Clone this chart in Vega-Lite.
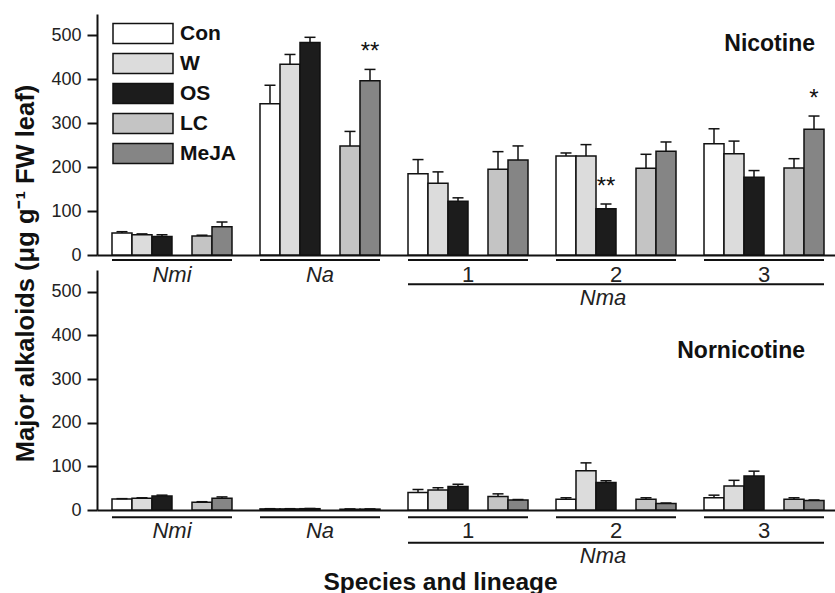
{
  "$schema": "https://vega.github.io/schema/vega-lite/v6.json",
  "background": "white",
  "padding": {"left": 12, "top": 14, "right": 0, "bottom": 0},
  "autosize": {"type": "pad"},
  "bounds": "flush",
  "spacing": 15,
  "config": {
    "font": "Liberation Sans",
    "view": {"stroke": null},
    "axis": {
      "labelFont": "Liberation Sans", "titleFont": "Liberation Sans",
      "domainColor": "#111", "domainWidth": 2, "tickColor": "#111", "tickWidth": 2,
      "labelColor": "#222", "titleColor": "#111", "grid": false
    },
    "legend": {
      "orient": "none", "legendX": 35, "legendY": 8.5, "padding": 0,
      "symbolType": "M-3,-1H3V1H-3Z", "symbolSize": 400,
      "symbolStrokeColor": "#111", "symbolStrokeWidth": 1.5, "symbolOpacity": 1,
      "labelFont": "Liberation Sans", "labelFontSize": 21, "labelFontWeight": "bold",
      "labelColor": "#111", "labelOffset": 26, "rowPadding": 4
    }
  },
  "datasets": {
    "nic": [
      {"group": "Nmi", "trt": "Con", "v": 50, "e": 53},
      {"group": "Nmi", "trt": "W", "v": 46, "e": 48},
      {"group": "Nmi", "trt": "OS", "v": 42, "e": 46},
      {"group": "Nmi", "trt": "LC", "v": 43, "e": 45},
      {"group": "Nmi", "trt": "MeJA", "v": 64, "e": 75},
      {"group": "Na", "trt": "Con", "v": 344, "e": 386},
      {"group": "Na", "trt": "W", "v": 434, "e": 456},
      {"group": "Na", "trt": "OS", "v": 483, "e": 495},
      {"group": "Na", "trt": "LC", "v": 248, "e": 281},
      {"group": "Na", "trt": "MeJA", "v": 396, "e": 422},
      {"group": "1", "trt": "Con", "v": 185, "e": 217},
      {"group": "1", "trt": "W", "v": 163, "e": 189},
      {"group": "1", "trt": "OS", "v": 122, "e": 130},
      {"group": "1", "trt": "LC", "v": 195, "e": 235},
      {"group": "1", "trt": "MeJA", "v": 216, "e": 248},
      {"group": "2", "trt": "Con", "v": 225, "e": 232},
      {"group": "2", "trt": "W", "v": 225, "e": 251},
      {"group": "2", "trt": "OS", "v": 105, "e": 116},
      {"group": "2", "trt": "LC", "v": 197, "e": 229},
      {"group": "2", "trt": "MeJA", "v": 236, "e": 257},
      {"group": "3", "trt": "Con", "v": 253, "e": 287},
      {"group": "3", "trt": "W", "v": 230, "e": 259},
      {"group": "3", "trt": "OS", "v": 177, "e": 192},
      {"group": "3", "trt": "LC", "v": 198, "e": 219},
      {"group": "3", "trt": "MeJA", "v": 286, "e": 316}
    ],
    "nor": [
      {"group": "Nmi", "trt": "Con", "v": 25, "e": 26},
      {"group": "Nmi", "trt": "W", "v": 27, "e": 28},
      {"group": "Nmi", "trt": "OS", "v": 32, "e": 34},
      {"group": "Nmi", "trt": "LC", "v": 18, "e": 19},
      {"group": "Nmi", "trt": "MeJA", "v": 27, "e": 30},
      {"group": "Na", "trt": "Con", "v": 2.5, "e": 3},
      {"group": "Na", "trt": "W", "v": 2.5, "e": 3},
      {"group": "Na", "trt": "OS", "v": 3, "e": 3.5},
      {"group": "Na", "trt": "LC", "v": 2, "e": 2.5},
      {"group": "Na", "trt": "MeJA", "v": 2, "e": 2.5},
      {"group": "1", "trt": "Con", "v": 40, "e": 47},
      {"group": "1", "trt": "W", "v": 46, "e": 51},
      {"group": "1", "trt": "OS", "v": 54, "e": 59},
      {"group": "1", "trt": "LC", "v": 31, "e": 37},
      {"group": "1", "trt": "MeJA", "v": 23, "e": 24},
      {"group": "2", "trt": "Con", "v": 24.5, "e": 28},
      {"group": "2", "trt": "W", "v": 90, "e": 108},
      {"group": "2", "trt": "OS", "v": 63, "e": 67},
      {"group": "2", "trt": "LC", "v": 24.5, "e": 28},
      {"group": "2", "trt": "MeJA", "v": 15, "e": 16},
      {"group": "3", "trt": "Con", "v": 28, "e": 34},
      {"group": "3", "trt": "W", "v": 55, "e": 68},
      {"group": "3", "trt": "OS", "v": 78, "e": 89},
      {"group": "3", "trt": "LC", "v": 24.5, "e": 28},
      {"group": "3", "trt": "MeJA", "v": 21.5, "e": 23}
    ],
    "stars": [
      {"group": "Na", "trt": "MeJA", "e": 422, "s": "**"},
      {"group": "2", "trt": "OS", "e": 116, "s": "**"},
      {"group": "3", "trt": "MeJA", "e": 316, "s": "*"}
    ],
    "spp": [{"group": "Nmi"}, {"group": "Na"}],
    "lin": [{"group": "1"}, {"group": "2"}, {"group": "3"}],
    "under": [
      {"from": "Nmi", "to": "Nmi"}, {"from": "Na", "to": "Na"},
      {"from": "1", "to": "1"}, {"from": "2", "to": "2"}, {"from": "3", "to": "3"}
    ],
    "nma": [{"from": "1", "to": "3", "name": "Nma"}]
  },
  "resolve": {"scale": {"x": "independent", "y": "independent", "xOffset": "independent", "fill": "independent"}, "legend": {"fill": "independent"}},
  "vconcat": [
    {
      "width": 738, "height": 241,
      "title": {"text": "Nicotine", "orient": "top", "anchor": "end", "frame": "group", "offset": 0, "dx": -20, "dy": 60, "baseline": "alphabetic", "font": "Liberation Sans", "fontSize": 23, "fontWeight": "bold", "color": "#111"},
      "layer": [
        {
          "data": {"name": "nic"},
          "mark": {"type": "bar", "stroke": "#111", "strokeWidth": 1.5},
          "encoding": {
            "x": {"field": "group", "type": "nominal", "sort": null,
                  "scale": {"domain": ["Nmi", "Na", "1", "2", "3"], "paddingInner": 0.1892, "paddingOuter": 0.0878, "align": 0.577},
                  "axis": {"labels": false, "ticks": false, "title": null}},
            "xOffset": {"field": "trt", "type": "nominal",
                  "scale": {"domain": ["Con", "W", "OS", "gap", "LC", "MeJA"], "paddingInner": 0, "paddingOuter": 0}},
            "y": {"field": "v", "type": "quantitative",
                  "scale": {"domain": [0, 548], "nice": false},
                  "axis": {"values": [0, 50, 100, 150, 200, 250, 300, 350, 400, 450, 500],
                           "labelExpr": "datum.value % 100 === 0 ? datum.label : ''",
                           "tickSize": {"condition": {"test": "datum.value % 100 === 0", "value": 10}, "value": 4},
                           "labelFontSize": 18, "labelPadding": 6,
                           "title": "Major alkaloids (μg g⁻¹ FW leaf)", "titleFontSize": 25.5, "titleFontWeight": "bold",
                           "titleAngle": 270, "titleAlign": "center", "titleBaseline": "alphabetic",
                           "titleX": -64, "titleY": 259}},
            "fill": {"field": "trt", "type": "nominal",
                  "scale": {"domain": ["Con", "W", "OS", "LC", "MeJA"], "range": ["#ffffff", "#dcdcdc", "#1c1c1c", "#c4c4c4", "#858585"]},
                  "legend": {"title": null}}
          }
        },
        {
          "data": {"name": "nic"},
          "mark": {"type": "rule", "stroke": "#111", "strokeWidth": 1.5},
          "encoding": {
            "x": {"field": "group", "type": "nominal"},
            "xOffset": {"field": "trt", "type": "nominal"},
            "y": {"field": "v", "type": "quantitative"},
            "y2": {"field": "e"}
          }
        },
        {
          "data": {"name": "nic"},
          "mark": {"type": "tick", "color": "#111", "thickness": 1.5, "opacity": 1},
          "encoding": {
            "x": {"field": "group", "type": "nominal"},
            "xOffset": {"field": "trt", "type": "nominal"},
            "y": {"field": "e", "type": "quantitative"},
            "size": {"value": 11}
          }
        },
        {
          "data": {"name": "stars"},
          "mark": {"type": "text", "fontSize": 24, "color": "#111", "baseline": "alphabetic", "dy": -10},
          "encoding": {
            "x": {"field": "group", "type": "nominal"},
            "xOffset": {"field": "trt", "type": "nominal"},
            "y": {"field": "e", "type": "quantitative"},
            "text": {"field": "s"}
          }
        },
        {
          "data": {"name": "under"},
          "mark": {"type": "rule", "stroke": "#111", "strokeWidth": 2},
          "encoding": {
            "x": {"field": "from", "type": "nominal", "bandPosition": 0},
            "x2": {"field": "to", "bandPosition": 1},
            "y": {"datum": -11.4, "type": "quantitative"}
          }
        },
        {
          "data": {"name": "nma"},
          "mark": {"type": "rule", "stroke": "#111", "strokeWidth": 2},
          "encoding": {
            "x": {"field": "from", "type": "nominal", "bandPosition": 0},
            "x2": {"field": "to", "bandPosition": 1},
            "y": {"datum": -66.6, "type": "quantitative"}
          }
        },
        {
          "data": {"name": "spp"},
          "mark": {"type": "text", "fontSize": 22, "fontStyle": "italic", "color": "#222", "baseline": "alphabetic"},
          "encoding": {
            "x": {"field": "group", "type": "nominal"},
            "y": {"datum": -60.7, "type": "quantitative"},
            "text": {"field": "group"}
          }
        },
        {
          "data": {"name": "lin"},
          "mark": {"type": "text", "fontSize": 22, "color": "#222", "baseline": "alphabetic"},
          "encoding": {
            "x": {"field": "group", "type": "nominal"},
            "y": {"datum": -60.7, "type": "quantitative"},
            "text": {"field": "group"}
          }
        },
        {
          "data": {"name": "nma"},
          "mark": {"type": "text", "fontSize": 22, "fontStyle": "italic", "color": "#222", "baseline": "alphabetic", "dx": -13},
          "encoding": {
            "x": {"datum": "2", "type": "nominal"},
            "y": {"datum": -113.7, "type": "quantitative"},
            "text": {"field": "name"}
          }
        }
      ]
    },
    {
      "width": 738, "height": 240,
      "title": {"text": "Nornicotine", "orient": "top", "anchor": "end", "frame": "group", "offset": 0, "dx": -30, "dy": 110.7, "baseline": "alphabetic", "font": "Liberation Sans", "fontSize": 23, "fontWeight": "bold", "color": "#111"},
      "layer": [
        {
          "data": {"name": "nor"},
          "mark": {"type": "bar", "stroke": "#111", "strokeWidth": 1.5},
          "encoding": {
            "x": {"field": "group", "type": "nominal", "sort": null,
                  "scale": {"domain": ["Nmi", "Na", "1", "2", "3"], "paddingInner": 0.1892, "paddingOuter": 0.0878, "align": 0.577},
                  "axis": {"labels": false, "ticks": false, "title": "Species and lineage",
                           "titleFontSize": 24.5, "titleFontWeight": "bold", "titleAlign": "center",
                           "titleBaseline": "alphabetic", "titleX": 343, "titleY": 79}},
            "xOffset": {"field": "trt", "type": "nominal",
                  "scale": {"domain": ["Con", "W", "OS", "gap", "LC", "MeJA"], "paddingInner": 0, "paddingOuter": 0}},
            "y": {"field": "v", "type": "quantitative",
                  "scale": {"domain": [0, 550], "nice": false},
                  "axis": {"values": [0, 50, 100, 150, 200, 250, 300, 350, 400, 450, 500],
                           "labelExpr": "datum.value % 100 === 0 ? datum.label : ''",
                           "tickSize": {"condition": {"test": "datum.value % 100 === 0", "value": 10}, "value": 4},
                           "labelFontSize": 18, "labelPadding": 6, "title": null}},
            "fill": {"field": "trt", "type": "nominal",
                  "scale": {"domain": ["Con", "W", "OS", "LC", "MeJA"], "range": ["#ffffff", "#dcdcdc", "#1c1c1c", "#c4c4c4", "#858585"]},
                  "legend": null}
          }
        },
        {
          "data": {"name": "nor"},
          "mark": {"type": "rule", "stroke": "#111", "strokeWidth": 1.5},
          "encoding": {
            "x": {"field": "group", "type": "nominal"},
            "xOffset": {"field": "trt", "type": "nominal"},
            "y": {"field": "v", "type": "quantitative"},
            "y2": {"field": "e"}
          }
        },
        {
          "data": {"name": "nor"},
          "mark": {"type": "tick", "color": "#111", "thickness": 1.5, "opacity": 1},
          "encoding": {
            "x": {"field": "group", "type": "nominal"},
            "xOffset": {"field": "trt", "type": "nominal"},
            "y": {"field": "e", "type": "quantitative"},
            "size": {"value": 11}
          }
        },
        {
          "data": {"name": "under"},
          "mark": {"type": "rule", "stroke": "#111", "strokeWidth": 2},
          "encoding": {
            "x": {"field": "from", "type": "nominal", "bandPosition": 0},
            "x2": {"field": "to", "bandPosition": 1},
            "y": {"datum": -16.7, "type": "quantitative"}
          }
        },
        {
          "data": {"name": "nma"},
          "mark": {"type": "rule", "stroke": "#111", "strokeWidth": 2},
          "encoding": {
            "x": {"field": "from", "type": "nominal", "bandPosition": 0},
            "x2": {"field": "to", "bandPosition": 1},
            "y": {"datum": -74.9, "type": "quantitative"}
          }
        },
        {
          "data": {"name": "spp"},
          "mark": {"type": "text", "fontSize": 22, "fontStyle": "italic", "color": "#222", "baseline": "alphabetic"},
          "encoding": {
            "x": {"field": "group", "type": "nominal"},
            "y": {"datum": -64.2, "type": "quantitative"},
            "text": {"field": "group"}
          }
        },
        {
          "data": {"name": "lin"},
          "mark": {"type": "text", "fontSize": 22, "color": "#222", "baseline": "alphabetic"},
          "encoding": {
            "x": {"field": "group", "type": "nominal"},
            "y": {"datum": -64.2, "type": "quantitative"},
            "text": {"field": "group"}
          }
        },
        {
          "data": {"name": "nma"},
          "mark": {"type": "text", "fontSize": 22, "fontStyle": "italic", "color": "#222", "baseline": "alphabetic", "dx": -13},
          "encoding": {
            "x": {"datum": "2", "type": "nominal"},
            "y": {"datum": -122.1, "type": "quantitative"},
            "text": {"field": "name"}
          }
        }
      ]
    }
  ]
}
